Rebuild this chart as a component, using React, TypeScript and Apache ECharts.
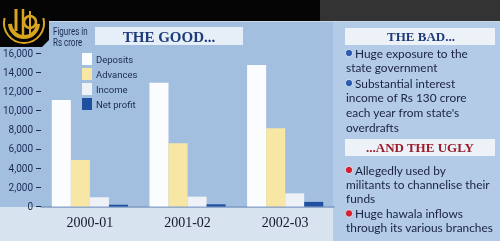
import React, { useEffect, useRef } from "react";
import * as echarts from "echarts";

const categories = ["2000-01", "2001-02", "2002-03"];
const deposits = [11100, 12900, 14750];
const advances = [4850, 6590, 8150];
const income = [965, 1030, 1375];
const netProfit = [190, 230, 480];
const seriesNames = ["Deposits", "Advances", "Income", "Net profit"];
const yTicks = { min: 0, max: 16000, interval: 2000 };

const badLines = [
  ["Huge exposure to the", "state government"],
  ["Substantial interest", "income of Rs 130 crore", "each year from state's", "overdrafts"],
];
const uglyLines = [
  ["Allegedly used by", "militants to channelise their", "funds"],
  ["Huge hawala inflows", "through its various branches"],
];

const NAVY = "#1b2a55";
const GOLD = "#d9a521";
const BODY_FONT = "Lato, 'Open Sans', sans-serif";
const SANS = "Roboto, 'Noto Sans', sans-serif";

function bulletBlock(groups: string[][], startY: number, color: string, lh: number) {
  const els: any[] = [];
  let y = startY;
  groups.forEach((lines, gi) => {
    els.push({
      type: "circle",
      shape: { cx: 349, cy: y, r: 3.6 },
      style: { fill: color, stroke: "#dfe8f4", lineWidth: 0.8 },
    });
    lines.forEach((ln, li) => {
      els.push({
        type: "text",
        x: li === 0 ? 355 : 346,
        y: y,
        scaleX: 0.99,
        style: {
          text: ln,
          font: `12px ${BODY_FONT}`,
          fill: "#1a2240",
          verticalAlign: "middle",
          align: "left",
        },
      });
      y += lh;
    });
    if (gi < groups.length - 1) y += 0.5;
  });
  return els;
}

export default function App() {
  const ref = useRef<HTMLDivElement>(null);
  useEffect(() => {
    if (!ref.current) return;
    const chart = echarts.init(ref.current, undefined, { renderer: "svg" });
    const graphics: any[] = [
      // panels
      { type: "rect", z: -10, shape: { x: 0, y: 0, width: 333, height: 207 }, style: { fill: "#a3bfdf" } },
      { type: "rect", z: -10, shape: { x: 333, y: 0, width: 167, height: 241 }, style: { fill: "#b3cbe7" } },
      { type: "rect", z: -10, shape: { x: 0, y: 207, width: 333, height: 34 }, style: { fill: "#d8e3f0" } },
      { type: "rect", z: -9, shape: { x: 0, y: 0, width: 500, height: 21 }, style: { fill: "#050505" } },
      { type: "rect", z: -9, shape: { x: 320, y: 0, width: 180, height: 21 }, style: { fill: "#333333" } },
      { type: "line", z: -9, shape: { x1: 0, y1: 21.5, x2: 500, y2: 21.5 }, style: { stroke: "#c9d6e6", lineWidth: 1 } },
      {
        type: "polygon",
        z: -9,
        shape: { points: [[0, 0], [49, 0], [49, 40], [42, 47], [0, 47]] },
        style: { fill: "#050505" },
      },
      // logo
      { type: "arc", shape: { cx: 24, cy: 23, r: 20, startAngle: -0.08 * Math.PI, endAngle: 1.08 * Math.PI, clockwise: true }, style: { stroke: GOLD, lineWidth: 2, fill: "none" } },
      { type: "arc", shape: { cx: 24, cy: 23, r: 14, startAngle: 0.02 * Math.PI, endAngle: 0.98 * Math.PI, clockwise: true }, style: { stroke: GOLD, lineWidth: 4, fill: "none" } },
      { type: "line", shape: { x1: 16, y1: 9, x2: 16, y2: 31 }, style: { stroke: GOLD, lineWidth: 3 } },
      { type: "line", shape: { x1: 23, y1: 9, x2: 23, y2: 36 }, style: { stroke: GOLD, lineWidth: 2.5 } },
      { type: "circle", shape: { cx: 30, cy: 22, r: 6 }, style: { stroke: GOLD, lineWidth: 2.5, fill: "none" } },
      { type: "line", shape: { x1: 30, y1: 11, x2: 30, y2: 35 }, style: { stroke: GOLD, lineWidth: 2 } },
      // figures in
      { type: "text", x: 53, y: 32, scaleX: 0.8, style: { text: "Figures in", font: `10px ${SANS}`, fill: NAVY, verticalAlign: "middle" } },
      { type: "text", x: 53, y: 43, scaleX: 0.8, style: { text: "Rs crore", font: `10px ${SANS}`, fill: NAVY, verticalAlign: "middle" } },
      // title boxes
      { type: "rect", shape: { x: 95, y: 27, width: 148, height: 18 }, style: { fill: "#e6eef8" } },
      { type: "text", x: 169, y: 36.5, style: { text: "THE GOOD...", font: "bold 15px 'Liberation Serif', serif", fill: "#1d3b7a", align: "center", verticalAlign: "middle" } },
      { type: "rect", shape: { x: 345, y: 28, width: 150, height: 17 }, style: { fill: "#edf2f9" } },
      { type: "text", x: 421, y: 36.5, style: { text: "THE BAD...", font: "bold 13px 'Liberation Serif', serif", fill: "#1d3b7a", align: "center", verticalAlign: "middle" } },
      { type: "rect", shape: { x: 345, y: 139, width: 150, height: 17 }, style: { fill: "#edf2f9" } },
      { type: "text", x: 420, y: 147.5, style: { text: "...AND THE UGLY", font: "bold 13px 'Liberation Serif', serif", fill: "#9c1c2a", align: "center", verticalAlign: "middle" } },
      ...bulletBlock(badLines, 53, "#2b5cb0", 14.8),
      ...bulletBlock(uglyLines, 170, "#d41f2e", 14.3),
    ];

    const barSeries = (name: string, data: number[], color: string) => ({
      name,
      type: "bar",
      data,
      barGap: "0%",
      barCategoryGap: "22%",
      itemStyle: { color },
    });

    chart.setOption({
      animation: false,
      grid: { left: 41, right: 166, top: 53, bottom: 34.5, containLabel: false },
      legend: {
        orient: "vertical",
        left: 82,
        top: 53,
        itemWidth: 10,
        itemHeight: 12,
        itemGap: 3,
        padding: 0,
        icon: "rect",
        data: seriesNames,
        textStyle: { fontSize: 9.5, color: NAVY, fontFamily: SANS, padding: [0, 0, 0, -1] },
      },
      xAxis: {
        type: "category",
        data: categories,
        axisTick: { show: false },
        axisLine: { show: true, lineStyle: { color: "#7f9bc3", width: 1.5 } },
        axisLabel: { fontFamily: "'Liberation Serif', serif", fontSize: 14, color: "#15182a", margin: 9 },
      },
      yAxis: {
        type: "value",
        min: yTicks.min,
        max: yTicks.max,
        interval: yTicks.interval,
        splitLine: { show: false },
        axisLine: { show: false },
        axisTick: { show: true, length: 5, lineStyle: { color: NAVY, width: 1 } },
        axisLabel: {
          fontFamily: SANS,
          fontSize: 10,
          color: NAVY,
          margin: 8,
          formatter: (v: number) => v.toLocaleString("en-US"),
        },
      },
      series: [
        barSeries(seriesNames[0], deposits, "#fbfcfd"),
        barSeries(seriesNames[1], advances, "#f7e6a4"),
        barSeries(seriesNames[2], income, "#eef1f7"),
        barSeries(seriesNames[3], netProfit, "#1f4f9f"),
      ],
      graphic: graphics,
    });
    return () => chart.dispose();
  }, []);
  return <div ref={ref} style={{ width: 500, height: 241, position: "fixed", left: 0, top: 0 }} />;
}
